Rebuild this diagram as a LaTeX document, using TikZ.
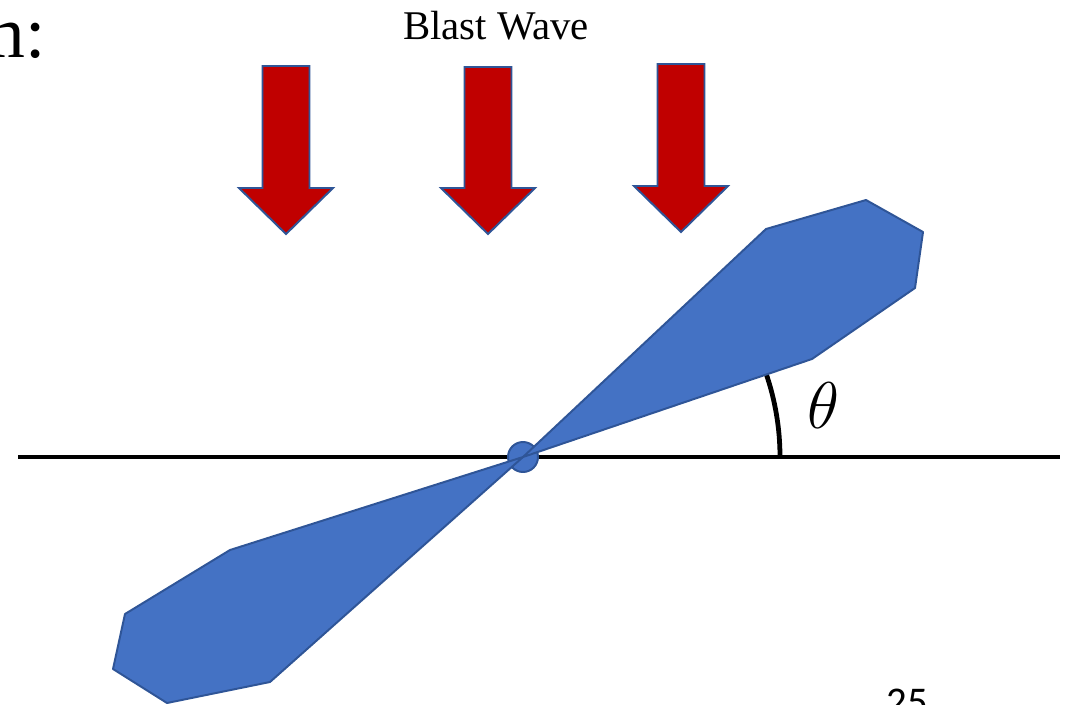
\RequirePackage{fix-cm}
\documentclass[tikz,border=0pt]{standalone}
\usepackage{fontspec}
\setmainfont{Liberation Serif}
\newfontfamily\slidefont{Carlito}
\definecolor{waveRed}{HTML}{C00000}
\definecolor{bladeBlue}{HTML}{4472C4}
\definecolor{edgeBlue}{HTML}{2F5597}
\begin{document}
\begin{tikzpicture}[x=0.025cm,y=-0.025cm,
  wavearrow/.style={fill=waveRed,draw=edgeBlue,line width=1.4pt,line join=miter},
  blade/.style={fill=bladeBlue,draw=edgeBlue,line width=1.4pt,line join=round}]
  \useasboundingbox (0,0) rectangle (1071,704);
  \clip (0,0) rectangle (1071,704);

  % Heading and label
  \node[anchor=base east,inner sep=0pt,font=\fontsize{52}{60}\selectfont] (heading) at (46,57) {m:};
  \node[anchor=base,inner sep=0pt,font=\fontsize{29}{34}\selectfont] (wavelabel) at (496,39) {Blast Wave};

  % Blast wave arrows
  \foreach \cx/\ty/\by in {286/66/188, 488/67/188, 681/64/186} {
    \draw[wavearrow] (\cx-23.5,\ty) -- (\cx+23.5,\ty) -- (\cx+23.5,\by) -- (\cx+47,\by)
      -- (\cx,\by+46) -- (\cx-47,\by) -- (\cx-23.5,\by) -- cycle;
  }

  % Ground line and angle
  \draw[line width=3.4pt] (18,457) -- (1060,457);
  \draw[line width=3.4pt] (780,457) arc[start angle=0,end angle=-19,radius=257];
  \node[font=\fontsize{47}{54}\selectfont] (theta) at (823,406) {$\theta$};

  % Blade
  \draw[blade] (523,457) circle[radius=15];
  \draw[blade] (523,457) -- (766,229) -- (866,200) -- (923,232) -- (915,288) -- (812,359) -- cycle;
  \draw[blade] (523,457) -- (270,682) -- (167,703) -- (113,669) -- (125,614) -- (230,550) -- cycle;

  % Slide number
  \node[anchor=base,inner sep=0pt,font=\slidefont\fontsize{29}{34}\selectfont] (pagenum) at (907,715) {25};
\end{tikzpicture}
\end{document}
